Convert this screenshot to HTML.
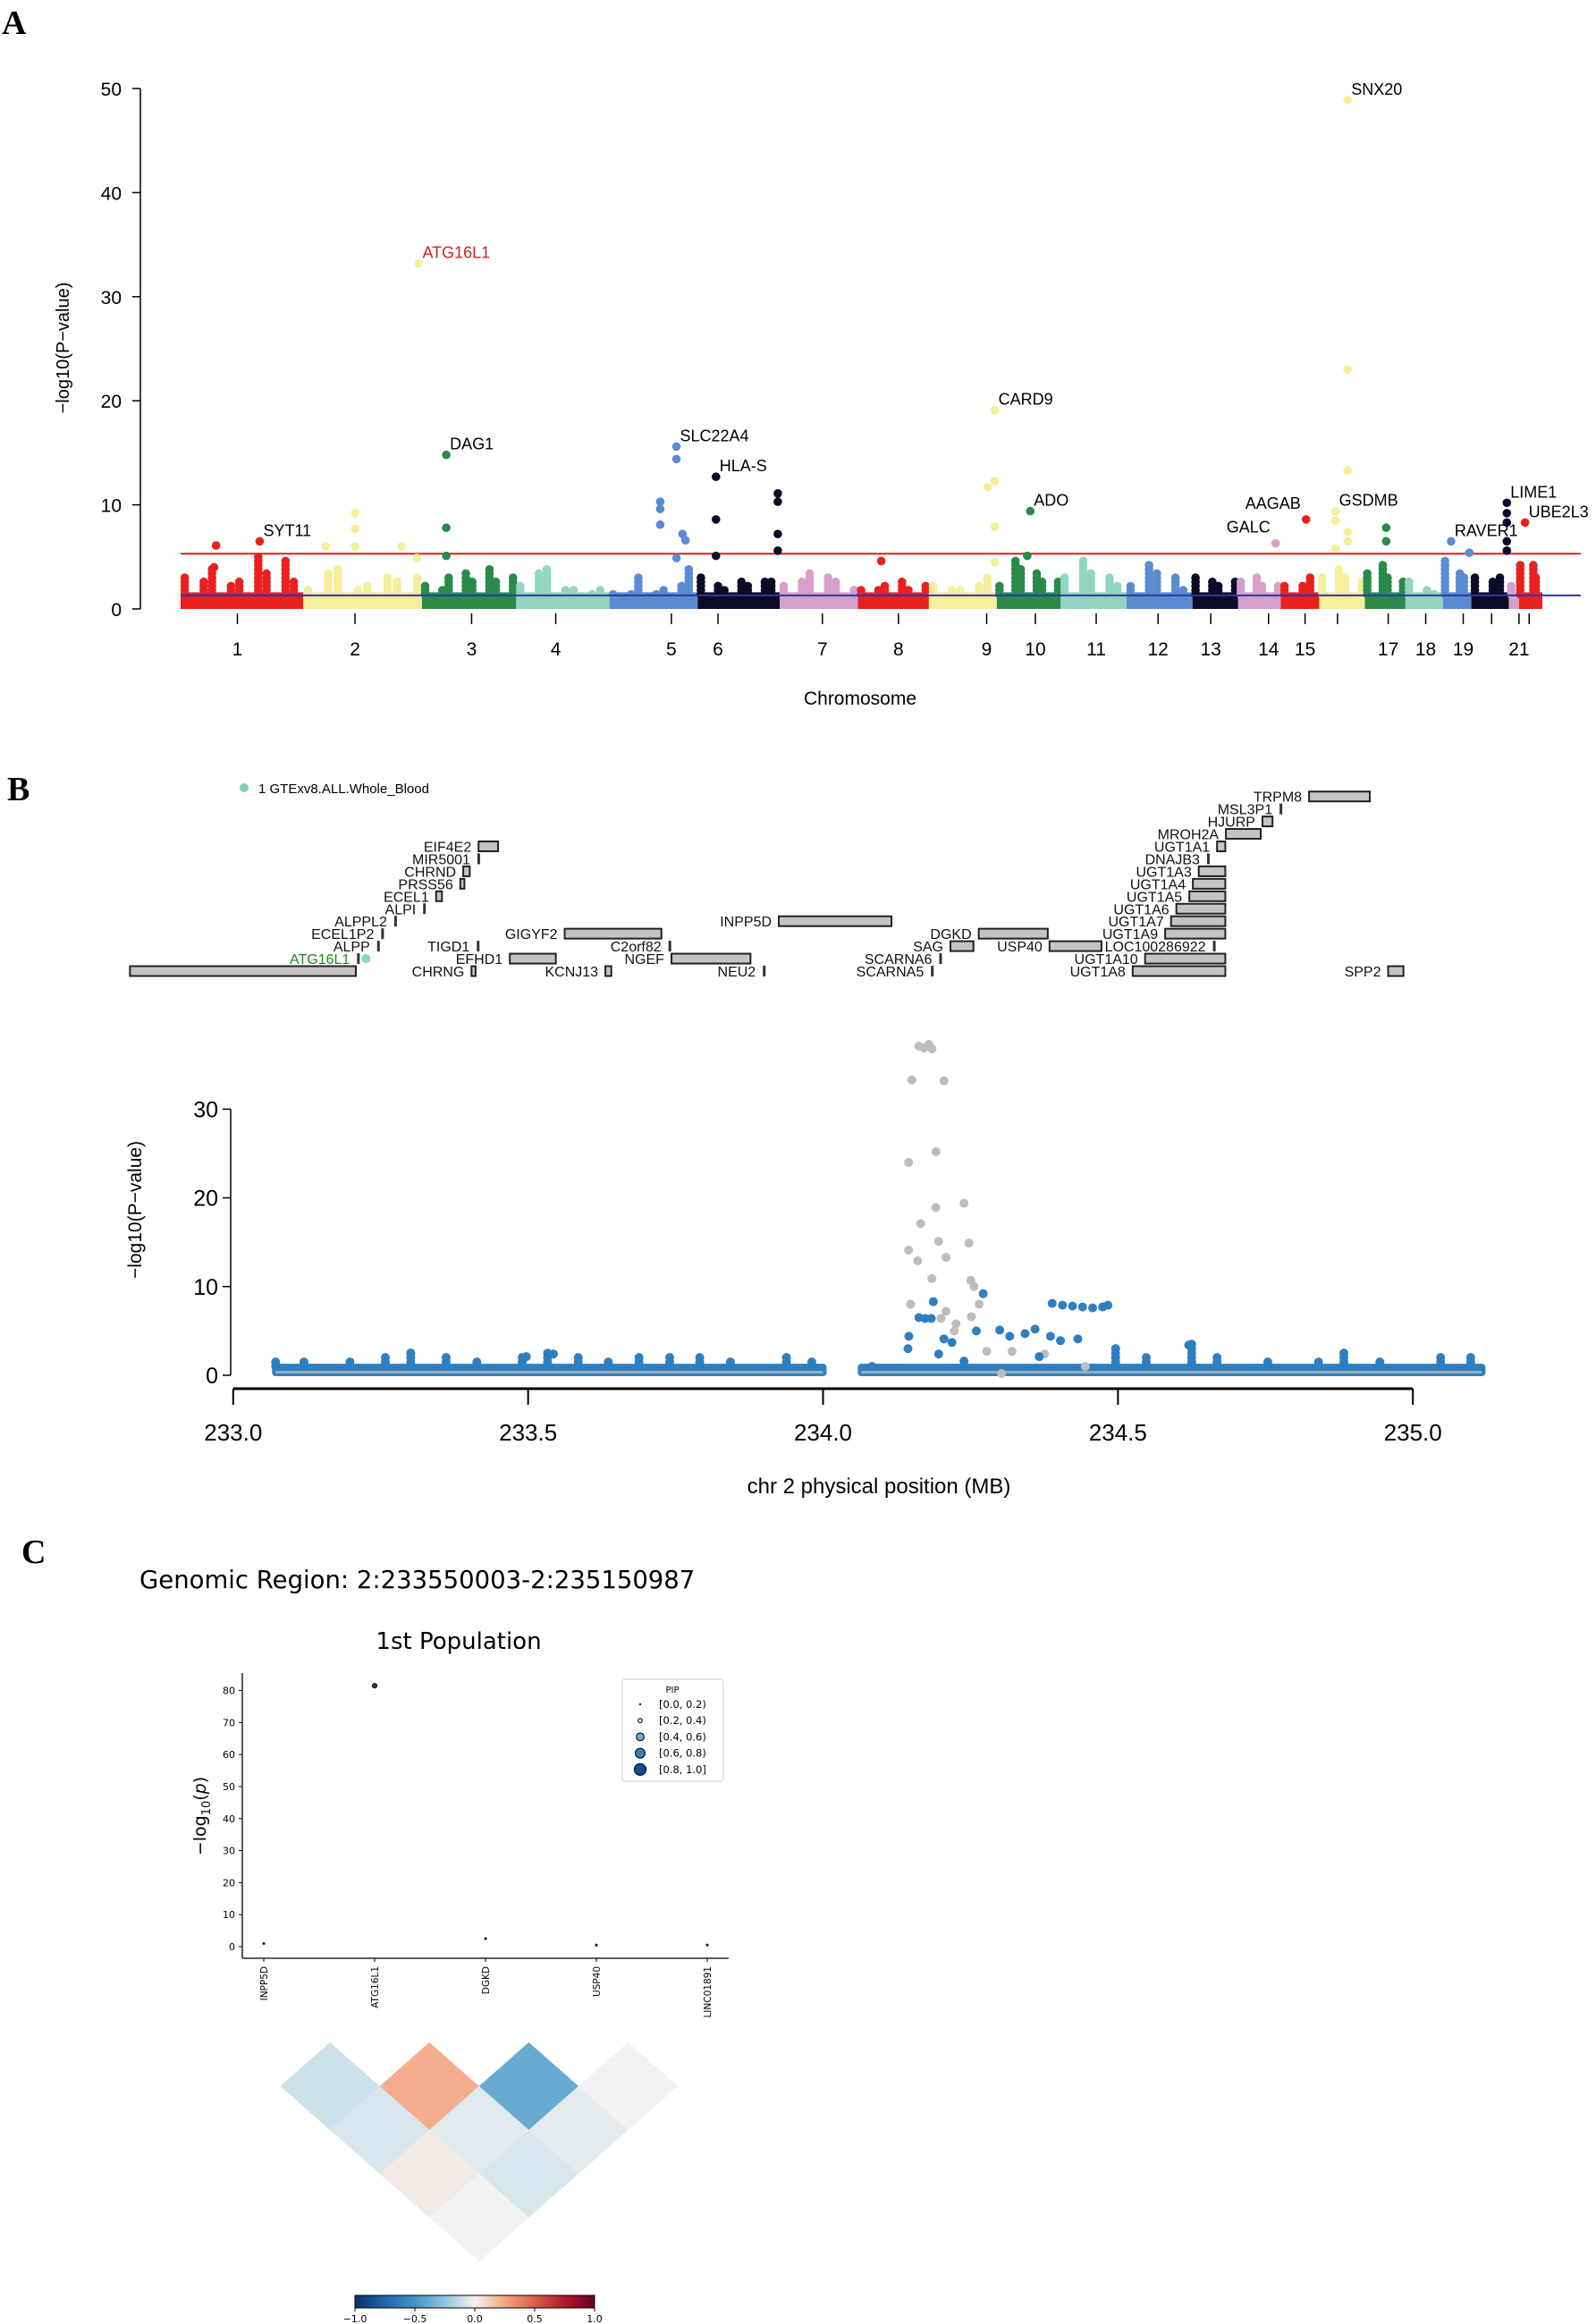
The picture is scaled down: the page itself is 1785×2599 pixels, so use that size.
<!DOCTYPE html>
<html><head><meta charset="utf-8">
<style>
html,body{margin:0;padding:0;background:#fff;}
svg{display:block;}
.n{font-family:"Liberation Sans Narrow","Liberation Sans",sans-serif;}
.s{font-family:"Liberation Sans",sans-serif;}
.d{font-family:"DejaVu Sans","Liberation Sans",sans-serif;}
.L{font-family:"Liberation Serif",serif;font-weight:bold;font-size:38px;}
</style></head>
<body>
<svg id="root" width="1785" height="2599" viewBox="0 0 1785 2599" xmlns="http://www.w3.org/2000/svg">
<text class="L" x="2" y="38">A</text>
<text class="L" x="8" y="895">B</text>
<text class="L" x="24" y="1748">C</text>
<g id="pa"></g>
<g id="pb"></g>
<g id="pc"></g>
</svg>
<script>
// ---------- Panel A data ----------
const chrNames = ["1","2","3","4","5","6","7","8","9","10","11","12","13","14","15","16","17","18","19","20","21","22"];
const chrLengths = [121,117,93,92,87,81,77,70,67,63,65,65,45,42,38,45,40,37,28,37,10,23];
const chrTickPos = [56,172,287,370,484,530,633,708,795,843,903,964,1016,1073,1109,1141,1191,1228,1265,1293,1320,1330];
const chrTickShown = [1,1,1,1,1,1,1,1,1,1,1,1,1,1,1,0,1,1,1,0,1,0];
const chrBumps = [
 [3.2,2.7,4.0,2.5,2.9,5.0,3.5,4.6,2.7],[2.0,3.6,3.8,2.0,2.5,3.0,2.8,3.3],[2.2,2.0,3.0,3.5,2.6,3.8,2.9,3.2],
 [2.4,3.6,3.8,2.0,1.8,1.7,2.0],[1.5,1.7,3.0,1.6,2.0,2.5,3.8],[3.0,2.4,2.0,2.6,2.2,2.6,2.8],[2.2,2.9,3.5,3.0,2.7,2.0],
 [2.0,1.8,2.2,2.6,2.0,2.4],[2.5,2.0,1.8,2.2,3.0],[2.5,4.6,4.0,3.5,2.8,2.6],[3.2,4.9,3.5,3.0,2.2],[2.5,4.2,3.5,3.0,2.0],
 [3.0,2.6,2.2,2.8],[2.6,3.0,2.4,2.2],[2.5,2.4,3.2],[3.0,4.0,3.0,2.6],[3.5,4.5,3.2,2.6],[2.8,2.0,1.5],[4.8,3.5,3.0],
 [3.2,2.8,3.0],[2.5],[4.5,4.3,3.0]];
const hitPos = [78,35,33,172,172,172,143,218,233,235,262,262,262,489,489,473,473,473,495,498,489,528,528,528,589,589,589,589,691,803,803,796,803,803,838,835,1080,1110,1151,1151,1151,1139,1139,1151,1151,1139,1189,1189,1253,1271,1308,1308,1308,1308,1308,1326];
const hitVal = [6.5,6.1,4.0,9.2,7.7,6.0,6.0,6.0,4.9,33.2,14.8,7.8,5.1,15.6,14.4,10.3,9.6,8.1,7.2,6.6,4.9,12.7,8.6,5.1,11.1,10.3,7.2,5.6,4.6,19.1,12.3,11.7,7.9,4.5,9.4,5.1,6.3,8.6,48.9,23.0,13.3,9.4,8.5,7.4,6.5,5.8,7.8,6.5,6.5,5.4,10.2,9.2,8.3,6.5,5.6,8.3];
const geneLabels = ["SYT11","ATG16L1","DAG1","SLC22A4","HLA-S","CARD9","ADO","GALC","AAGAB","SNX20","GSDMB","RAVER1","LIME1","UBE2L3"];
const geneLabelHit = [0,9,10,13,21,29,34,36,37,38,41,48,50,55];
const geneLabelEnd = [0,0,0,0,0,0,0,1,1,0,0,0,0,0];
const yTicksA = [0,10,20,30,40,50];
const sigLine = 5.3, sugLine = 1.3;

// ---------- Panel B data ----------
const geneNames = ["","ATG16L1","ALPP","ECEL1P2","ALPPL2","ALPI","ECEL1","PRSS56","CHRND","MIR5001","EIF4E2","CHRNG","TIGD1","EFHD1","KCNJ13","GIGYF2","C2orf82","NGEF","NEU2","INPP5D","SCARNA5","SCARNA6","SAG","DGKD","USP40","UGT1A8","UGT1A10","LOC100286922","UGT1A9","UGT1A7","UGT1A6","UGT1A5","UGT1A4","UGT1A3","DNAJB3","UGT1A1","MROH2A","HJURP","MSL3P1","TRPM8","SPP2"];
const geneStart = [232.825,233.210,233.244,233.251,233.273,233.322,233.344,233.385,233.390,233.414,233.416,233.404,233.413,233.469,233.631,233.562,233.738,233.743,233.898,233.925,234.183,234.197,234.216,234.264,234.384,234.525,234.546,234.661,234.580,234.590,234.599,234.621,234.627,234.637,234.651,234.668,234.683,234.745,234.774,234.824,234.958];
const geneEnd =   [233.208,233.210,233.246,233.253,233.276,233.325,233.354,233.392,233.401,233.414,233.449,233.411,233.413,233.547,233.641,233.726,233.740,233.877,233.898,234.116,234.183,234.197,234.255,234.381,234.472,234.682,234.682,234.661,234.682,234.682,234.682,234.682,234.682,234.682,234.651,234.682,234.742,234.762,234.774,234.927,234.984];
const geneRow =   [0,1,2,3,4,5,6,7,8,9,10,0,2,1,0,3,2,1,0,4,0,1,2,3,2,0,1,2,3,4,5,6,7,8,9,10,11,12,13,14,0];
const grayMb  = [234.1625,234.171,234.1795,234.1847,234.1505,234.205,234.1915,234.145,234.239,234.191,234.1655,234.196,234.2475,234.145,234.2085,234.1605,234.2505,234.1845,234.256,234.1485,234.2085,234.2645,234.2000,234.2255,234.2515,234.2225,234.2775,234.3205,234.3025,234.3755,234.4445];
const grayVal = [37.1,36.9,37.3,36.8,33.3,33.2,25.2,24.0,19.4,18.9,17.1,15.1,14.9,14.1,13.3,12.9,10.7,10.9,10.0,8.0,7.2,8.0,6.4,5.8,6.6,5.0,2.7,2.7,0.2,2.4,1.0];
const blueMb  = [234.1625,234.1730,234.1835,234.1870,234.2715,234.1455,234.2050,234.2185,234.2600,234.2995,234.3165,234.3425,234.3595,234.3855,234.4025,234.4320,234.1440,234.1960,234.2390,234.3665,234.4960,234.6200,233.3010,233.4970,233.5430,234.3885,234.4060,234.4230,234.4400,234.4570,234.4740,234.4830];
const blueVal = [6.5,6.4,6.4,8.3,9.2,4.4,4.1,3.7,5.0,5.1,4.4,4.7,5.2,4.4,3.9,4.1,3.0,2.4,1.6,2.1,3.0,3.4,2.5,2.1,2.4,8.1,7.9,7.8,7.7,7.6,7.7,7.9];
const bgSegStart = [233.072,234.065];
const bgSegEnd = [234.000,235.117];
const bumpMb  = [233.072,233.120,233.198,233.258,233.301,233.361,233.413,233.490,233.533,233.585,233.636,233.688,233.740,233.791,233.843,233.938,233.981,234.083,234.496,234.548,234.625,234.668,234.754,234.840,234.883,234.944,235.047,235.098];
const bumpVal = [1.9,1.5,1.9,2.1,2.8,2.4,1.6,2.2,2.7,2.1,1.9,2.1,2.1,2.1,1.9,2.2,1.5,1.3,3.1,2.1,3.5,2.4,1.9,1.7,2.7,1.9,2.4,2.0];
const xTicksB = [233.0,233.5,234.0,234.5,235.0];
const yTicksB = [0,10,20,30];

// ---------- Panel C data ----------
const catC = ["INPP5D","ATG16L1","DGKD","USP40","LINC01891"];
const valC = [1.0,81.5,2.5,0.5,0.5];
const pipC = [0.1,0.3,0.1,0.1,0.1];
const yTicksC = [0,10,20,30,40,50,60,70,80];
const pipBins = ["[0.0, 0.2)","[0.2, 0.4)","[0.4, 0.6)","[0.6, 0.8)","[0.8, 1.0]"];
const ldRow0 = [-0.10,0.22,-0.38,0.00];
const ldRow1 = [-0.07,-0.05,-0.04];
const ldRow2 = [0.03,-0.07];
const ldRow3 = [0.00];
const cbTicks = [-1.0,-0.5,0.0,0.5,1.0];

const NS="http://www.w3.org/2000/svg";
function mk(parent, tag, attrs, text){
  const e=document.createElementNS(NS,tag);
  for(const k in attrs) e.setAttribute(k,attrs[k]);
  if(text!==undefined) e.textContent=text;
  parent.appendChild(e); return e;
}

// ================= Panel A =================
(function(){
  const g=document.getElementById('pa');
  const palette=["#e8211f","#f5ee9a","#2a8a4a","#93d4c2","#5b8bd0","#0c0c28","#d79fcc"];
  const x0=202, kx=1.134, y0=681, ky=11.64;
  const X=u=>x0+u*kx, Y=v=>y0-v*ky;
  const starts=[]; let acc=0;
  for(let i=0;i<chrLengths.length;i++){starts.push(acc);acc+=chrLengths[i];}
  const chrOf=u=>{for(let i=chrLengths.length-1;i>=0;i--) if(u>=starts[i]) return i; return 0;};
  let el=mk(g,'line',{x1:157,y1:Y(0),x2:157,y2:Y(50),stroke:'#000','stroke-width':1.5});
  
  
  yTicksA.forEach(t=>{
    let tk=mk(g,'line',{x1:148,y1:Y(t),x2:157,y2:Y(t),stroke:'#000','stroke-width':1.5});
    
    
    let tl=mk(g,'text',{x:136,y:Y(t)+8,'text-anchor':'end','font-size':21,class:'n'},String(t));
    
    
  });
  el=mk(g,'text',{x:0,y:0,transform:'translate(77,389) rotate(-90)','text-anchor':'middle','font-size':20,class:'s'},'\u2212log10(P\u2212value)');
  
  
  for(let i=0;i<chrLengths.length;i++){
    const c=palette[i%7];
    let r=mk(g,'rect',{x:X(starts[i]),y:Y(1.6),width:chrLengths[i]*kx,height:Y(0)-Y(1.6),fill:c});
    
    
    const b=chrBumps[i];
    b.forEach((v,j)=>{
      const u=starts[i]+chrLengths[i]*(j+0.5)/b.length;
      for(let h=1.4;h<=v;h+=0.4){
        let d=mk(g,'circle',{cx:X(u)+((j%2)?3:-3),cy:Y(h),r:4.8,fill:c});
        
        
      }
    });
  }
  el=mk(g,'line',{x1:X(0),x2:1768,y1:Y(sigLine),y2:Y(sigLine),stroke:'#d62020','stroke-width':2});
  
  
  el=mk(g,'line',{x1:X(0),x2:1768,y1:Y(sugLine),y2:Y(sugLine),stroke:'#2a3a9a','stroke-width':2});
  
  
  hitPos.forEach((u,i)=>{
    let d=mk(g,'circle',{cx:X(u),cy:Y(hitVal[i]),r:4.8,fill:palette[chrOf(u)%7]});
    
    
  });
  geneLabels.forEach((t,i)=>{
    const h=geneLabelHit[i], px=X(hitPos[h]), py=Y(hitVal[h]);
    const end=geneLabelEnd[i];
    let tx=mk(g,'text',{x:end?px-6:px+4,y:end?py-12:py-6,'text-anchor':end?'end':'start','font-size':18,class:'n',fill:t==='ATG16L1'?'#d42020':'#000'},t);
    
    
  });
  chrTickPos.forEach((u,i)=>{
    let tk=mk(g,'line',{x1:X(u),x2:X(u),y1:686,y2:698,stroke:'#000','stroke-width':1.5});
    
    
    if(chrTickShown[i]){
      let tl=mk(g,'text',{x:X(u),y:733,'text-anchor':'middle','font-size':21,class:'n'},chrNames[i]);
      
      
    }
  });
  el=mk(g,'text',{x:962,y:788,'text-anchor':'middle','font-size':21,class:'n'},'Chromosome');
  
  
})();

// ================= Panel B =================
(function(){
  const g=document.getElementById('pb');
  const X=m=>260.8+(m-233)*659.7, Y=v=>1538-v*9.92;
  const rowY=r=>1086-r*13.95;
  let el=mk(g,'circle',{cx:273,cy:881,r:5,fill:'#7fcdbb'});
  
  
  el=mk(g,'text',{x:289,y:887,'font-size':15,class:'n'},'1 GTExv8.ALL.Whole_Blood');
  
  
  geneNames.forEach((n,i)=>{
    const xs=X(geneStart[i]), xe=X(geneEnd[i]);
    const w=Math.max(xe-xs,3), yc=rowY(geneRow[i]);
    const isMark=(xe-xs)<4;
    let r=mk(g,'rect',{x:xs,y:isMark?yc-6:yc-5.5,width:isMark?3:w,height:isMark?12:11,fill:isMark?'#333':'#c4c4c4',stroke:'#222','stroke-width':isMark?0:2});
    
    
    if(n){
      let t=mk(g,'text',{x:xs-8,y:yc+6,'text-anchor':'end','font-size':16,class:'n',fill:n==='ATG16L1'?'#1a8a1a':'#111'},n);
      
      
    }
    if(n==='ATG16L1'){
      let c=mk(g,'circle',{cx:xs+10,cy:yc,r:5,fill:'#8fd4c6'});
      
      
    }
  });
  bgSegStart.forEach((s,i)=>{
    let r=mk(g,'rect',{x:X(s)-4,y:Y(1.3),width:X(bgSegEnd[i])-X(s)+8,height:Y(-0.1)-Y(1.3),rx:4,fill:'#2f7fc0'});
    
    
    let r2=mk(g,'rect',{x:X(s),y:Y(0.5),width:X(bgSegEnd[i])-X(s),height:3,fill:'#b8b8b8',opacity:0.8});
    
    
  });
  bumpMb.forEach((m,i)=>{
    for(let h=1.0;h<=bumpVal[i];h+=0.5){
      let d=mk(g,'circle',{cx:X(m),cy:Y(h),r:5,fill:'#2f7fc0'});
      
      
    }
  });
  grayMb.forEach((m,i)=>{
    let d=mk(g,'circle',{cx:X(m),cy:Y(grayVal[i]),r:5,fill:'#bdbdbd'});
    
    
  });
  blueMb.forEach((m,i)=>{
    let d=mk(g,'circle',{cx:X(m),cy:Y(blueVal[i]),r:5,fill:'#2f7fc0'});
    
    
  });
  el=mk(g,'line',{x1:258,x2:258,y1:Y(0),y2:Y(30),stroke:'#000','stroke-width':1.5});
  
  
  yTicksB.forEach(t=>{
    let tk=mk(g,'line',{x1:249,x2:258,y1:Y(t),y2:Y(t),stroke:'#000','stroke-width':1.5});
    
    
    let tl=mk(g,'text',{x:244,y:Y(t)+9,'text-anchor':'end','font-size':25,class:'n'},String(t));
    
    
  });
  el=mk(g,'text',{x:0,y:0,transform:'translate(158,1353) rotate(-90)','text-anchor':'middle','font-size':21,class:'s'},'\u2212log10(P\u2212value)');
  
  
  el=mk(g,'line',{x1:X(233),x2:X(235),y1:1553,y2:1553,stroke:'#000','stroke-width':3});
  
  
  xTicksB.forEach(t=>{
    let tk=mk(g,'line',{x1:X(t),x2:X(t),y1:1553,y2:1571,stroke:'#000','stroke-width':2});
    
    
    let tl=mk(g,'text',{x:X(t),y:1611,'text-anchor':'middle','font-size':26,class:'n'},t.toFixed(1));
    
    
  });
  el=mk(g,'text',{x:983,y:1670,'text-anchor':'middle','font-size':24,class:'n'},'chr 2 physical position (MB)');
  
  
})();

// ================= Panel C =================
(function(){
  const g=document.getElementById('pc');
  const X=i=>295+i*124, Y=v=>2177-v*3.58;
  let el=mk(g,'text',{x:156,y:1776,'font-size':27.5,class:'d'},'Genomic Region: 2:233550003-2:235150987');
  
  
  el=mk(g,'text',{x:513,y:1844,'text-anchor':'middle','font-size':26,class:'d'},'1st Population');
  
  
  el=mk(g,'line',{x1:271,x2:271,y1:1871,y2:2190,stroke:'#000','stroke-width':1.3});
  
  
  el=mk(g,'line',{x1:271,x2:815,y1:2190,y2:2190,stroke:'#000','stroke-width':1.3});
  
  
  yTicksC.forEach(t=>{
    let tk=mk(g,'line',{x1:267,x2:271,y1:Y(t),y2:Y(t),stroke:'#000'});
    
    
    let tl=mk(g,'text',{x:263,y:Y(t)+4,'text-anchor':'end','font-size':11,class:'d'},String(t));
    
    
  });
  el=mk(g,'text',{x:0,y:0,transform:'translate(230,2031) rotate(-90)','text-anchor':'middle','font-size':19,class:'d'});
  el.innerHTML='\u2212log<tspan font-size="13" dy="5">10</tspan><tspan dy="-5">(</tspan><tspan font-style="italic">p</tspan>)';
  
  
  catC.forEach((c,i)=>{
    let tk=mk(g,'line',{x1:X(i),x2:X(i),y1:2190,y2:2194,stroke:'#000'});
    
    
    let tl=mk(g,'text',{x:0,y:0,transform:`translate(${X(i)+4},2199) rotate(-90)`,'text-anchor':'end','font-size':10.5,class:'d'},c);
    
    
    const big=pipC[i]>=0.2;
    let d=mk(g,'circle',{cx:X(i),cy:Y(valC[i]),r:big?2.6:1.6,fill:big?'#2b3a55':'#222',stroke:'#111','stroke-width':big?1:0});
    
    
  });
  el=mk(g,'rect',{x:696,y:1878,width:113,height:114,rx:3,fill:'#fff',stroke:'#cfcfcf'});
  
  
  el=mk(g,'text',{x:752,y:1893,'text-anchor':'middle','font-size':10,class:'d'},'PIP');
  
  
  const lr=[1.2,2.3,4.3,5.4,6.5], lc=['#222','#fff','#6baed6','#3182bd','#08519c'];
  pipBins.forEach((b,i)=>{
    const y=1906+i*18.2;
    let m=mk(g,'circle',{cx:716,cy:y,r:lr[i],fill:lc[i],stroke:'#111','stroke-width':i===0?0:1.2});
    
    
    let t=mk(g,'text',{x:737,y:y+4,'font-size':11.5,class:'d'},b);
    
    
  });
  const stops=[[-1,[5,48,97]],[-0.75,[33,102,172]],[-0.5,[67,147,195]],[-0.25,[146,197,222]],[0,[242,242,242]],[0.25,[244,165,130]],[0.5,[214,96,77]],[0.75,[178,24,43]],[1,[103,0,31]]];
  function cmap(v){
    for(let i=0;i<stops.length-1;i++){
      const [a,ca]=stops[i],[b,cb]=stops[i+1];
      if(v<=b){const t=(v-a)/(b-a);return 'rgb('+ca.map((c,k)=>Math.round(c+(cb[k]-c)*t)).join(',')+')';}
    }
    return 'rgb(103,0,31)';
  }
  const rows=[ldRow0,ldRow1,ldRow2,ldRow3];
  const hx=55.6, hy=49;
  rows.forEach((row,r)=>{
    row.forEach((v,c)=>{
      const cx=369+(c+r/2)*2*hx, cy=2333+r*hy;
      let p=mk(g,'polygon',{points:`${cx},${cy-hy} ${cx+hx},${cy} ${cx},${cy+hy} ${cx-hx},${cy}`,fill:cmap(v)});
      
      
    });
  });
  const defs=mk(g,'defs',{});
  const lg=mk(defs,'linearGradient',{id:'cbg',x1:0,x2:1,y1:0,y2:0});
  stops.forEach(s=>mk(lg,'stop',{offset:((s[0]+1)/2*100)+'%','stop-color':'rgb('+s[1].join(',')+')'}));
  el=mk(g,'rect',{x:397,y:2567,width:268,height:14,fill:'url(#cbg)',stroke:'#000','stroke-width':1});
  
  
  cbTicks.forEach(t=>{
    const x=397+(t+1)/2*268;
    let tk=mk(g,'line',{x1:x,x2:x,y1:2581,y2:2585,stroke:'#000'});
    
    
    let tl=mk(g,'text',{x:x,y:2597,'text-anchor':'middle','font-size':11,class:'d'},(t<0?'\u2212':'')+Math.abs(t).toFixed(1));
    
    
  });
})();
</script>
</body></html>
